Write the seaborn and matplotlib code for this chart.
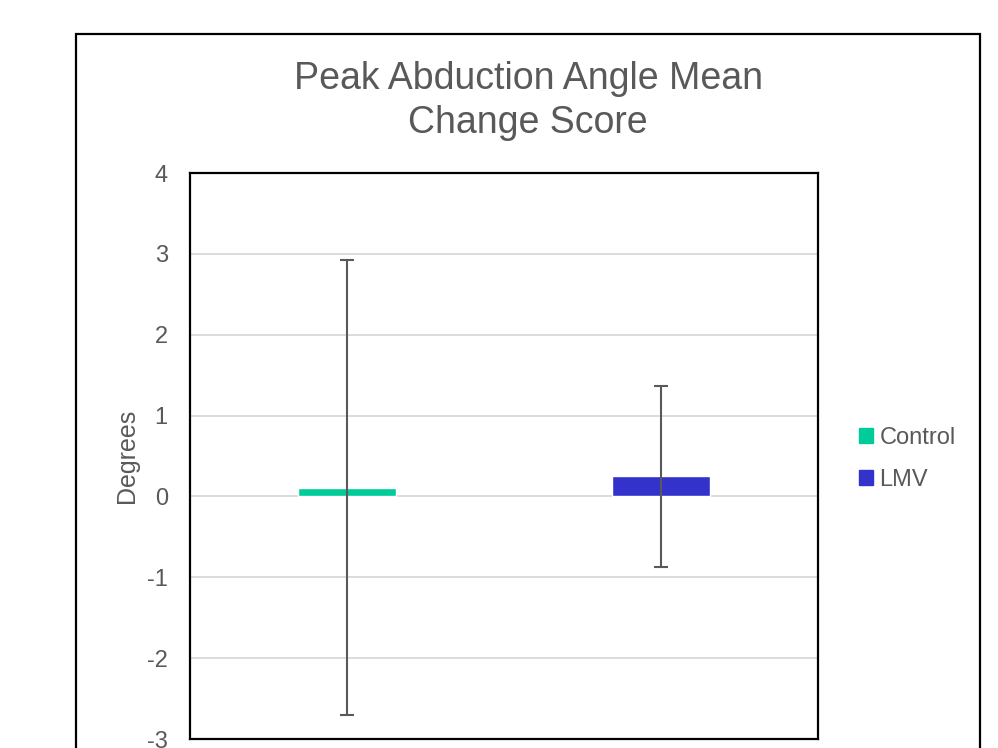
import pandas as pd
import matplotlib.pyplot as plt
import matplotlib.patches as mpatches
import seaborn as sns

# === Dati ===
groups = ["Control", "LMV"]
means = [0.11, 0.25]
errors = [2.81, 1.12]
colors = ["#00CC99", "#3333CC"]
yticks = [-3, -2, -1, 0, 1, 2, 3, 4]

df = pd.DataFrame({"group": groups, "mean": means, "err": errors})

sns.set_style("white")
plt.rcParams["font.family"] = ["Liberation Sans", "DejaVu Sans"]
grey = "#595959"

fig = plt.figure(figsize=(9.98, 7.48), dpi=100)
ax = fig.add_axes([190 / 998, 1 - 739 / 748, 628 / 998, 566 / 748])

sns.barplot(data=df, x="group", y="mean", hue="group", palette=colors,
            width=0.315, dodge=False, legend=False, saturation=1, ax=ax, zorder=3)
ax.errorbar(range(len(groups)), df["mean"], yerr=df["err"], fmt="none",
            ecolor=grey, elinewidth=1.5, capsize=5, capthick=1.5, zorder=4)

ax.set_xlim(-0.5, 1.5)
ax.set_ylim(-3, 4)
ax.set_yticks(yticks)
ax.set_yticklabels([str(t) for t in yticks], color=grey, fontsize=17)
ax.set_xticks([])
ax.set_xlabel("")
ax.set_ylabel("Degrees", color=grey, fontsize=18, labelpad=6)
ax.tick_params(axis="y", length=0, pad=16)
ax.yaxis.grid(True, color="#d9d9d9", linewidth=1.3, zorder=0)
ax.set_axisbelow(True)
for s in ax.spines.values():
    s.set_visible(True)
    s.set_color("black")
    s.set_linewidth(1.6)

fig.text(528 / 998, 1 - 101 / 748, "Peak Abduction Angle Mean\nChange Score",
         ha="center", va="center", fontsize=27, color=grey, linespacing=1.3)

# cornice esterna
frame = mpatches.Rectangle((76 / 998, -0.05), 904 / 998, 1 - 34 / 748 + 0.05,
                           transform=fig.transFigure, fill=False,
                           edgecolor="black", linewidth=1.6)
fig.patches.append(frame)

handles = [mpatches.Patch(color=c, label=g) for g, c in zip(groups, colors)]
fig.legend(handles=handles, loc="center left",
           bbox_to_anchor=(838 / 998, 1 - 459 / 748), frameon=False,
           fontsize=17, labelcolor=grey, handlelength=0.6, handleheight=0.6,
           handletextpad=0.25, labelspacing=0.85)

fig.savefig("out.png", dpi=100)
